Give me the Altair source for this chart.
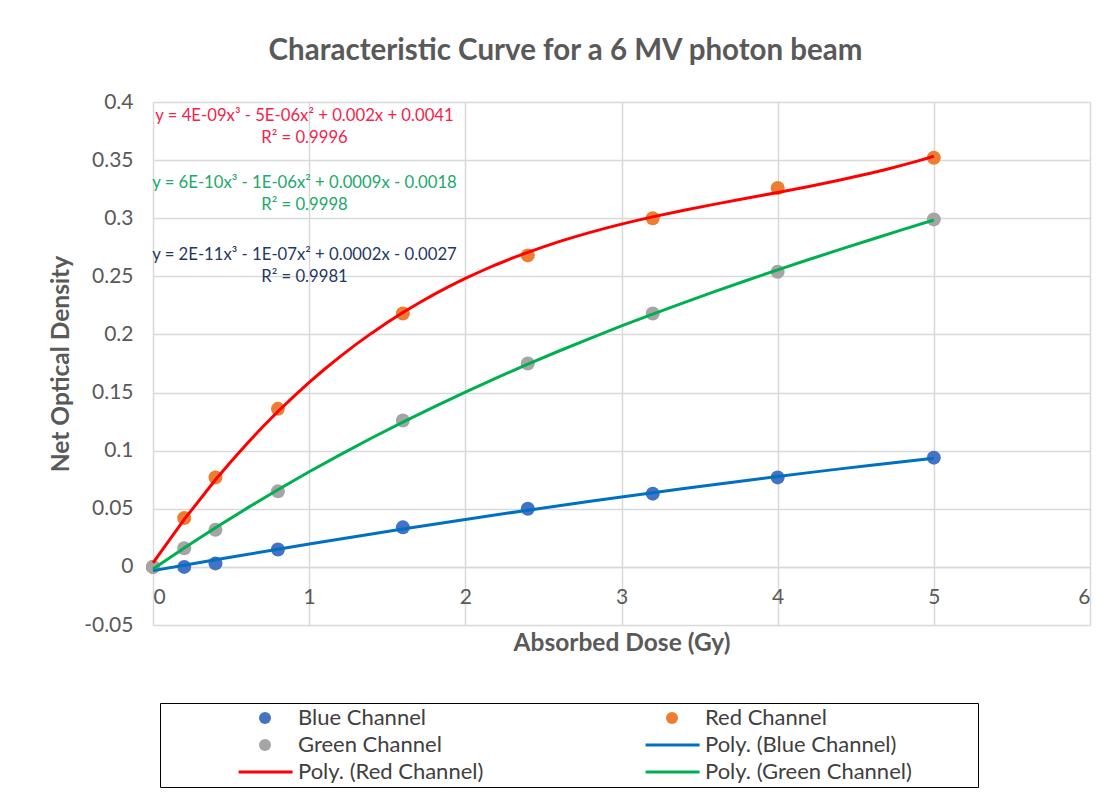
import altair as alt
import pandas as pd

# ---- data ----
dose = [0.0, 0.2, 0.4, 0.8, 1.6, 2.4, 3.2, 4.0, 5.0]
blue = [0.0, 0.000, 0.003, 0.015, 0.034, 0.050, 0.063, 0.077, 0.094]
red = [0.0, 0.042, 0.077, 0.136, 0.218, 0.268, 0.300, 0.326, 0.352]
green = [0.0, 0.016, 0.032, 0.065, 0.126, 0.175, 0.218, 0.254, 0.299]
series_names = ["Blue Channel", "Red Channel", "Green Channel"]
# legend entries (filled column by column: left column first, then right column)
legend_order = ["Blue Channel", "Green Channel", "Poly. (Red Channel)",
                "Red Channel", "Poly. (Blue Channel)", "Poly. (Green Channel)"]
eq_text = [
    "y = 4E-09x³ - 5E-06x² + 0.002x + 0.0041\nR² = 0.9996",
    "y = 6E-10x³ - 1E-06x² + 0.0009x  - 0.0018\nR² = 0.9998",
    "y = 2E-11x³ - 1E-07x² + 0.0002x  - 0.0027\nR² = 0.9981",
]
eq_x = [0.97, 0.97, 0.97]
eq_y = [0.388, 0.330, 0.268]
x_ticks = [0, 1, 2, 3, 4, 5, 6]
y_ticks = [-0.05, 0, 0.05, 0.1, 0.15, 0.2, 0.25, 0.3, 0.35, 0.4]

rows = []
for name, vals in zip(series_names, [blue, red, green]):
    for d, v in zip(dose, vals):
        rows.append({"dose": d, "od": v, "series": name})
df = pd.DataFrame(rows)

FONT = "Lato"
GREY = "#595959"
legend_colors = ["#4472C4", "#A5A5A5", "#FF0000", "#ED7D31", "#0070C0", "#00B050"]
LINE_SYM = "M-4.4,-0.25L4.6,-0.25L4.6,0.25L-4.4,0.25Z"

color_scale = alt.Scale(domain=legend_order, range=legend_colors)
shape_scale = alt.Scale(domain=legend_order,
                        range=["circle", "circle", LINE_SYM, "circle", LINE_SYM, LINE_SYM])

legend = alt.Legend(
    title="\u00a0", titleOrient="right", titlePadding=62, orient="none",
    legendX=7, legendY=601, columns=2,
    columnPadding=87, rowPadding=5, symbolSize=144, symbolOffset=90,
    labelOffset=22, labelFont=FONT, labelFontSize=22, labelColor="#404040",
    strokeColor="black", padding=4, symbolStrokeWidth=0, labelLimit=400,
)

x_enc = alt.X("dose:Q", scale=alt.Scale(domain=[0, 6], nice=False),
              axis=alt.Axis(values=x_ticks, title="Absorbed Dose (Gy)", offset=-58,
                            ticks=False, labelPadding=19, titlePadding=24, format="d",
                            domainColor="#D9D9D9", domainWidth=1.5))
y_enc = alt.Y("od:Q", scale=alt.Scale(domain=[-0.05, 0.4], nice=False, zero=False),
              axis=alt.Axis(values=y_ticks, title="Net Optical Density", ticks=False,
                            domain=False, labelPadding=20, titlePadding=10,
                            labelExpr="datum.value < 0 ? '-' + format(-datum.value, '.2~f') : format(datum.value, '.2~f')"))

points = alt.Chart(df).transform_calculate(legend="datum.series").mark_point(
    filled=True, size=196, opacity=1).encode(
    x=x_enc, y=y_enc,
    color=alt.Color("legend:N", scale=color_scale, legend=legend),
    shape=alt.Shape("legend:N", scale=shape_scale, legend=legend),
)

lines = alt.Chart(df).transform_regression(
    "dose", "od", groupby=["series"], method="poly", order=3
).transform_calculate(legend="'Poly. (' + datum.series + ')'").mark_line(
    strokeWidth=3).encode(
    x="dose:Q", y="od:Q",
    color=alt.Color("legend:N", scale=color_scale, legend=legend),
)

eq_colors = ["#F5234B", "#22A86B", "#1F3864"]
texts = []
for t, xx, yy, c in zip(eq_text, eq_x, eq_y, eq_colors):
    d = pd.DataFrame({"x": [xx], "y": [yy], "t": [t]})
    texts.append(alt.Chart(d).mark_text(
        font=FONT, fontSize=16.7, color=c, align="center", baseline="middle",
        lineBreak="\n", lineHeight=22).encode(x="x:Q", y="y:Q", text="t:N"))

chart = alt.layer(points, lines, *texts).properties(
    width=937, height=523, background="white",
    title=alt.TitleParams("Characteristic Curve for a 6 MV photon beam", font=FONT,
                          fontSize=29.5, fontWeight="bold", color=GREY, anchor="middle",
                          offset=25, dx=-56),
    padding={"left": 153, "top": 102, "right": 25, "bottom": 167},
    autosize=alt.AutoSizeParams(type="none"),
).configure_axis(
    labelFont=FONT, labelFontSize=21, labelColor=GREY, titleFont=FONT, titleFontSize=24.5,
    titleColor=GREY, titleFontWeight="bold", gridColor="#D9D9D9", gridWidth=1.5,
).configure_view(stroke=None)

chart.save("out.html", embed_options={"renderer": "svg", "actions": False})
